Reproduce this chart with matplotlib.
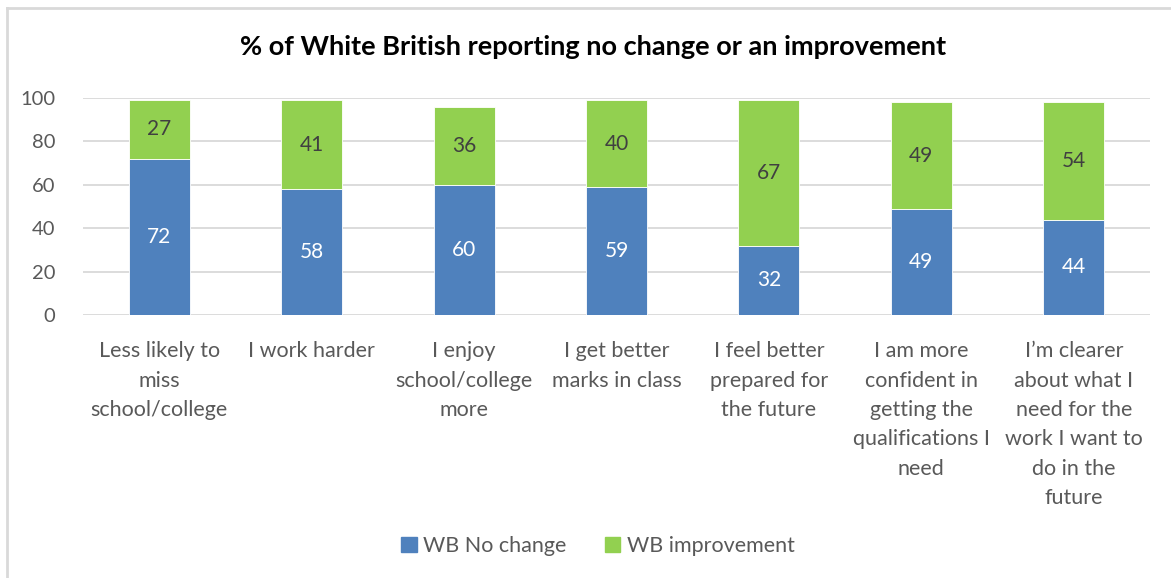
import matplotlib
matplotlib.use("Agg")
import matplotlib.pyplot as plt
from matplotlib.patches import Patch
from matplotlib.lines import Line2D
import numpy as np

plt.rcParams['font.family'] = ['Lato', 'DejaVu Sans']

categories = [
    "Less likely to\nmiss\nschool/college",
    "I work harder",
    "I enjoy\nschool/college\nmore",
    "I get better\nmarks in class",
    "I feel better\nprepared for\nthe future",
    "I am more\nconfident in\ngetting the\nqualifications I\nneed",
    "I\u2019m clearer\nabout what I\nneed for the\nwork I want to\ndo in the\nfuture",
]
no_change = [72, 58, 60, 59, 32, 49, 44]
improvement = [27, 41, 36, 40, 67, 49, 54]
y_ticks = [0, 20, 40, 60, 80, 100]

BLUE = "#4F81BD"
GREEN = "#92D050"
TEXT = "#595959"
GRID = "#D9D9D9"

W, H = 1171, 578
fig = plt.figure(figsize=(W / 100, H / 100), dpi=100)

# chart frame (light gray border, top and left edges)
fig.add_artist(Line2D([7 / W, 1.0], [1 - 8 / H, 1 - 8 / H], color=GRID, lw=2))
fig.add_artist(Line2D([7 / W, 7 / W], [0, 1 - 8 / H], color=GRID, lw=2))

ax = fig.add_axes([83 / W, 1 - 315 / H, (1150 - 83) / W, (315 - 98) / H])
x = np.arange(len(categories))
bw = 0.4
ax.bar(x, no_change, bw, color=BLUE, edgecolor="white", linewidth=0.6,
       label="WB No change", zorder=3)
ax.bar(x, improvement, bw, bottom=no_change, color=GREEN, edgecolor="white",
       linewidth=0.6, label="WB improvement", zorder=3)

for xi, v in zip(x, no_change):
    ax.text(xi, v / 2, str(v), ha="center", va="center", color="white", fontsize=15)
for xi, b, v in zip(x, no_change, improvement):
    ax.text(xi, b + v / 2, str(v), ha="center", va="center", color="#404040", fontsize=15)

ax.set_xlim(-0.5, len(categories) - 0.5)
ax.set_ylim(0, 100)
ax.set_yticks(y_ticks)
ax.set_yticklabels([str(t) for t in y_ticks], fontsize=14.5, color=TEXT)
ax.set_xticks(x)
ax.set_xticklabels(categories, fontsize=15.5, color=TEXT, linespacing=1.58, va="top")
ax.tick_params(axis="both", length=0)
ax.tick_params(axis="x", pad=19)
ax.tick_params(axis="y", pad=20)
ax.grid(axis="y", color=GRID, linewidth=1.3, zorder=0)
for s in ax.spines.values():
    s.set_visible(False)

fig.text(593 / W, 1 - 47 / H, "% of White British reporting no change or an improvement",
         ha="center", va="center", fontsize=19.5, fontweight="bold", color="black")

handles = [Patch(color=BLUE, label="WB No change"), Patch(color=GREEN, label="WB improvement")]
fig.legend(handles=handles, loc="center", bbox_to_anchor=(598 / W, 1 - 546 / H), ncol=2,
           frameon=False, fontsize=15.5, labelcolor=TEXT, handlelength=0.7, handleheight=0.7,
           handletextpad=0.3, columnspacing=1.8)

fig.savefig("out.png", dpi=100)
